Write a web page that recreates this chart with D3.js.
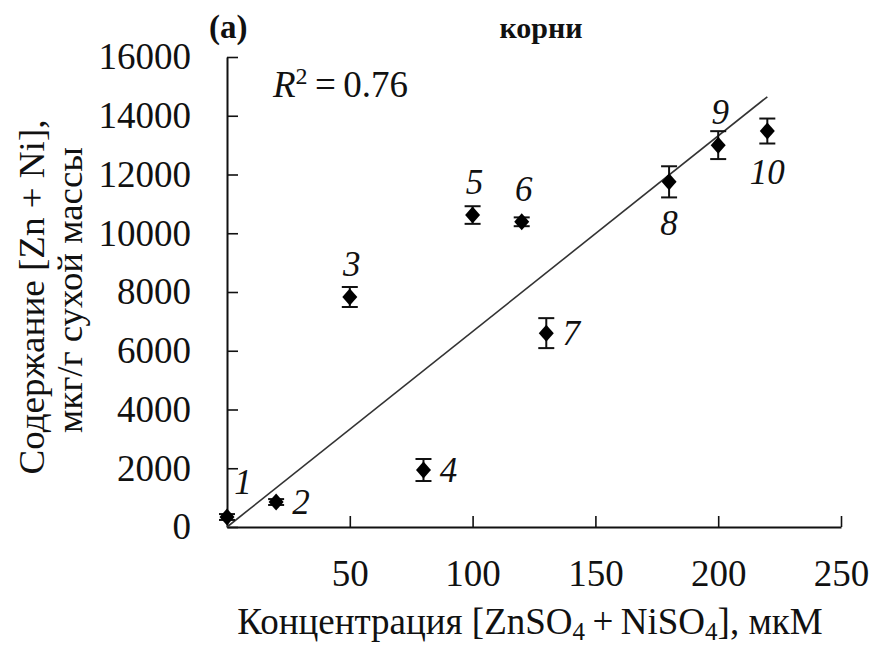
<!DOCTYPE html>
<html>
<head>
<meta charset="utf-8">
<script src="https://cdn.jsdelivr.net/npm/d3@7"></script>
<style>
  body { margin: 0; background: #fff; }
  svg text { font-family: "Liberation Serif", "DejaVu Serif", serif; fill: #111; }
</style>
</head>
<body>
<svg width="878" height="645"></svg>
<script>
// data
var concentrations = [0, 20, 50, 80, 100, 120, 130, 180, 200, 220];
var contents = [340, 850, 7830, 1940, 10620, 10390, 6600, 11750, 13000, 13480];
var errors = [100, 100, 340, 375, 300, 150, 510, 530, 475, 425];
var pointLabels = ["1", "2", "3", "4", "5", "6", "7", "8", "9", "10"];
var labelSide = ["aboveRight", "right", "above", "right", "above", "above", "right", "below", "above", "below"];
var xTicks = [50, 100, 150, 200, 250];
var yTicks = [0, 2000, 4000, 6000, 8000, 10000, 12000, 14000, 16000];

var svg = d3.select("svg");

var x = d3.scaleLinear().domain([0, 250]).range([227, 841]);
var y = d3.scaleLinear().domain([0, 16000]).range([527, 57]);

// axes - ticks point inward like the original
var xAxis = d3.axisBottom(x)
    .tickValues(xTicks)
    .tickFormat(d3.format("d"))
    .tickSizeInner(-11)
    .tickSizeOuter(0)
    .tickPadding(33);

var yAxis = d3.axisLeft(y)
    .tickValues(yTicks)
    .tickFormat(d3.format("d"))
    .tickSizeInner(-11)
    .tickSizeOuter(0)
    .tickPadding(36);

var gx = svg.append("g")
    .attr("transform", "translate(0," + y(0) + ")")
    .call(xAxis);

var gy = svg.append("g")
    .attr("transform", "translate(" + x(0) + ",0)")
    .call(yAxis);

[gx, gy].forEach(function(g) {
  g.attr("font-family", null);
  g.select(".domain").attr("stroke", "#111").attr("stroke-width", 2);
  g.selectAll(".tick line").attr("stroke", "#111").attr("stroke-width", 1.6);
  g.selectAll(".tick text")
    .attr("font-size", 37)
    .attr("fill", "#222");
});

// regression line forced through the origin
var slope = d3.sum(concentrations, (d, i) => d * contents[i]) /
            d3.sum(concentrations, d => d * d);

svg.append("line")
    .attr("x1", x(0))
    .attr("y1", y(0))
    .attr("x2", x(220))
    .attr("y2", y(slope * 220))
    .attr("stroke", "#333")
    .attr("stroke-width", 1.6);

var points = concentrations.map((c, i) => ({
  x: c, y: contents[i], err: errors[i], label: pointLabels[i], side: labelSide[i]
}));

// error bars
var bars = svg.append("g").selectAll("g")
    .data(points)
    .enter()
    .append("g")
    .attr("stroke", "#111")
    .attr("stroke-width", 2);

bars.append("line")
    .attr("x1", d => x(d.x)).attr("x2", d => x(d.x))
    .attr("y1", d => y(d.y - d.err)).attr("y2", d => y(d.y + d.err));
bars.append("line")
    .attr("x1", d => x(d.x) - 8).attr("x2", d => x(d.x) + 8)
    .attr("y1", d => y(d.y + d.err)).attr("y2", d => y(d.y + d.err));
bars.append("line")
    .attr("x1", d => x(d.x) - 8).attr("x2", d => x(d.x) + 8)
    .attr("y1", d => y(d.y - d.err)).attr("y2", d => y(d.y - d.err));

// diamond markers
svg.append("g").selectAll("path")
    .data(points)
    .enter()
    .append("path")
    .attr("d", "M0,-8.5L7.5,0L0,8.5L-7.5,0Z")
    .attr("transform", d => "translate(" + x(d.x) + "," + y(d.y) + ")")
    .attr("fill", "#000");

// point numbers
var offsets = {
  above:      [2, -33],
  aboveRight: [16, -35],
  right:      [25, 0],
  below:      [0, 41]
};

svg.append("g").selectAll("text")
    .data(points)
    .enter()
    .append("text")
    .attr("x", d => x(d.x) + offsets[d.side][0])
    .attr("y", d => y(d.y) + offsets[d.side][1])
    .attr("dy", "0.35em")
    .attr("text-anchor", "middle")
    .attr("font-size", 35)
    .attr("font-style", "italic")
    .attr("fill", "#222")
    .text(d => d.label);

// R^2
var r2 = svg.append("text")
    .attr("x", 273)
    .attr("y", 97)
    .attr("font-size", 37)
    .attr("fill", "#222");
r2.append("tspan").attr("font-style", "italic").text("R");
r2.append("tspan").attr("dy", -13).attr("font-size", 24).text("2");
r2.append("tspan").attr("dy", 13).text("\u2009=\u20090.76");

// titles
svg.append("text")
    .attr("x", 209).attr("y", 38)
    .attr("font-size", 33)
    .attr("font-weight", "bold")
    .text("(a)");

svg.append("text")
    .attr("x", 541).attr("y", 38)
    .attr("text-anchor", "middle")
    .attr("font-size", 30)
    .attr("font-weight", "bold")
    .text("корни");

// x axis label
var xl = svg.append("text")
    .attr("x", 530).attr("y", 634)
    .attr("text-anchor", "middle")
    .attr("font-size", 37)
    .attr("fill", "#222");
xl.append("tspan").text("Концентрация [ZnSO");
xl.append("tspan").attr("dy", 6).attr("font-size", 25).text("4");
xl.append("tspan").attr("dy", -6).text("\u2009+\u2009NiSO");
xl.append("tspan").attr("dy", 6).attr("font-size", 25).text("4");
xl.append("tspan").attr("dy", -6).text("], мкМ");

// y axis label, two lines
svg.append("text")
    .attr("transform", "translate(44,297) rotate(-90)")
    .attr("text-anchor", "middle")
    .attr("font-size", 36)
    .attr("textLength", 355)
    .attr("lengthAdjust", "spacingAndGlyphs")
    .attr("fill", "#222")
    .text("Содержание [Zn + Ni],");

svg.append("text")
    .attr("transform", "translate(82,290) rotate(-90)")
    .attr("text-anchor", "middle")
    .attr("font-size", 36)
    .attr("textLength", 286)
    .attr("lengthAdjust", "spacingAndGlyphs")
    .attr("fill", "#222")
    .text("мкг/г сухой массы");
</script>
</body>
</html>
